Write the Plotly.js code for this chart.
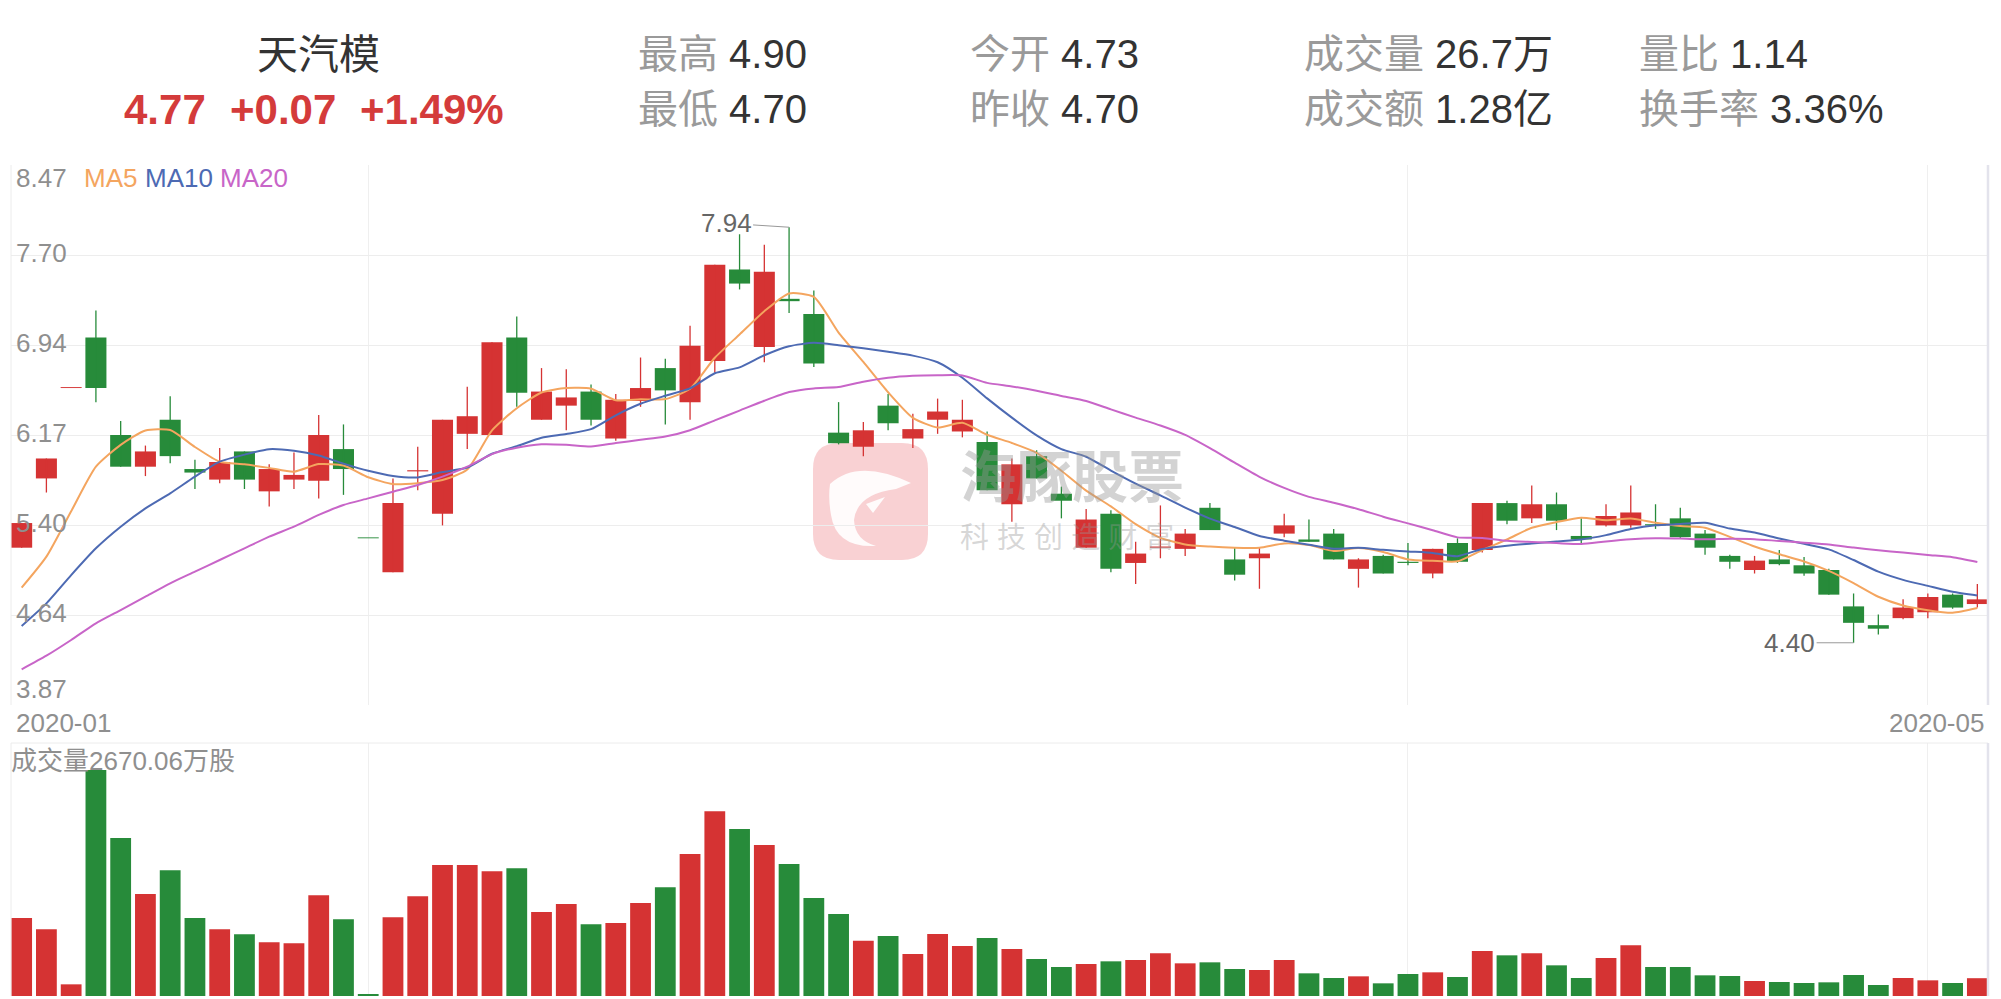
<!DOCTYPE html>
<html><head><meta charset="utf-8">
<script src="https://cdn.plot.ly/plotly-3.0.1.min.js"></script>
<style>html,body{margin:0;padding:0;background:#fff;} #chart{width:2001px;height:999px;}</style>
</head><body><div id="chart"></div>
<script>
// ---------------- data ----------------
const stockName = '天汽模';
const quoteParts = ['4.77', '+0.07', '+1.49%'];
const infoLabels = ['最高', '最低', '今开', '昨收', '成交量', '成交额', '量比', '换手率'];
const infoValues = ['4.90', '4.70', '4.73', '4.70', '26.7万', '1.28亿', '1.14', '3.36%'];
const priceTickLabels = ['8.47', '7.70', '6.94', '6.17', '5.40', '4.64', '3.87'];
const dateLabels = ['2020-01', '2020-05'];
const monthStartIdx = [14, 56, 77];
const volumeTitle = '成交量2670.06万股';
const maNames = ['MA5', 'MA10', 'MA20'];

const open = [5.21,5.80,6.57,7.00,6.17,5.90,6.30,5.88,5.79,6.03,5.69,5.79,5.78,6.05,5.29,5.00,5.86,5.50,6.18,6.17,
  7.00,6.30,6.42,6.54,6.14,6.46,6.74,6.45,6.80,7.58,6.92,7.33,7.20,6.19,6.07,6.42,6.14,6.30,6.20,6.11,
  5.58,5.99,5.67,5.21,5.50,5.08,5.21,5.20,5.55,5.11,5.12,5.33,5.28,5.33,5.03,5.14,5.09,4.99,5.25,5.19,
  5.59,5.46,5.58,5.31,5.40,5.40,5.41,5.46,5.33,5.14,5.02,5.11,5.06,5.02,4.71,4.55,4.61,4.66,4.81,4.73];
const high = [5.42,5.97,6.57,7.23,6.29,6.08,6.50,5.96,6.06,6.03,5.92,6.02,6.34,6.26,5.29,5.80,6.07,6.30,6.58,6.96,
  7.18,6.74,6.73,6.60,6.52,6.83,6.82,7.10,7.62,7.88,7.79,7.94,7.40,6.45,6.28,6.52,6.35,6.48,6.47,6.20,
  5.97,6.04,5.73,5.54,5.53,5.26,5.57,5.37,5.59,5.21,5.21,5.50,5.45,5.37,5.12,5.15,5.25,5.20,5.29,5.59,
  5.61,5.74,5.68,5.46,5.58,5.74,5.58,5.55,5.36,5.15,5.14,5.19,5.13,5.03,4.82,4.64,4.77,4.82,4.82,4.90];
const low = [5.21,5.68,6.57,6.45,5.90,5.82,5.93,5.71,5.76,5.71,5.56,5.71,5.63,5.66,5.29,5.00,5.70,5.40,6.05,6.17,
  6.41,6.30,6.21,6.25,6.12,6.41,6.26,6.30,6.70,7.41,6.79,7.21,6.75,6.09,5.99,6.21,6.06,6.18,6.15,5.70,
  5.43,5.80,5.46,5.21,5.00,4.90,5.12,5.14,5.36,4.93,4.86,5.30,5.26,5.11,4.87,4.99,5.06,4.95,5.08,5.17,
  5.41,5.42,5.36,5.25,5.39,5.38,5.37,5.29,5.15,5.03,4.99,5.06,4.97,4.81,4.40,4.47,4.60,4.61,4.69,4.70];
const close = [5.42,5.97,6.57,6.57,5.90,6.03,5.99,5.85,5.94,5.79,5.88,5.83,6.17,5.88,5.29,5.59,5.87,6.30,6.33,6.96,
  6.53,6.54,6.49,6.30,6.47,6.57,6.55,6.93,7.62,7.46,7.56,7.31,6.78,6.10,6.21,6.27,6.22,6.37,6.30,5.70,
  5.92,5.80,5.61,5.45,5.03,5.16,5.22,5.33,5.36,4.98,5.16,5.40,5.26,5.11,5.11,4.99,5.08,5.20,5.09,5.59,
  5.44,5.58,5.44,5.28,5.48,5.51,5.40,5.30,5.21,5.09,5.10,5.07,4.99,4.81,4.57,4.52,4.70,4.79,4.70,4.77];
// volume in 万股
const volume = [11700,10000,1750,33900,23700,15300,18850,11700,10000,9250,8050,7900,15100,11500,300,11800,14950,19650,19650,18700,
  19150,12600,13800,10750,10950,13950,16300,21300,27700,25050,22650,19800,14700,12300,8300,9000,6300,9300,7500,8700,
  7050,5550,4350,4800,5200,5400,6400,4900,5050,4050,3900,5400,3400,2700,2950,1900,3300,3550,2850,6750,
  6100,6400,4600,2700,5700,7600,4350,4350,3100,3000,2250,2100,1950,2050,3150,1650,2700,2350,1950,2670.06];
const ma5 = [4.870,5.134,5.520,5.900,6.086,6.208,6.212,6.068,5.942,5.920,5.890,5.858,5.922,5.910,5.810,5.752,5.760,5.786,5.876,6.210,
  6.398,6.532,6.570,6.564,6.466,6.474,6.476,6.564,6.828,7.026,7.224,7.376,7.346,7.042,6.792,6.534,6.316,6.234,6.274,6.172,
  6.102,6.018,5.866,5.696,5.562,5.410,5.294,5.238,5.220,5.210,5.210,5.246,5.232,5.182,5.208,5.174,5.110,5.098,5.094,5.190,
  5.280,5.380,5.428,5.466,5.444,5.458,5.422,5.394,5.380,5.302,5.220,5.154,5.092,5.012,4.908,4.792,4.718,4.678,4.656,4.696];
const ma10 = [4.543,4.736,4.977,5.205,5.389,5.545,5.673,5.815,5.943,6.003,6.049,6.035,5.995,5.926,5.865,5.821,5.809,5.854,5.893,6.010,
  6.075,6.146,6.178,6.220,6.338,6.436,6.504,6.567,6.696,6.746,6.849,6.926,6.955,6.935,6.909,6.879,6.846,6.790,6.658,6.482,
  6.318,6.167,6.050,5.985,5.867,5.756,5.656,5.552,5.458,5.386,5.310,5.270,5.235,5.201,5.209,5.192,5.178,5.165,5.138,5.199,
  5.227,5.245,5.263,5.280,5.317,5.369,5.401,5.411,5.423,5.373,5.339,5.288,5.243,5.196,5.105,5.006,4.936,4.885,4.834,4.802];
const ma20 = [4.174,4.290,4.424,4.566,4.679,4.793,4.907,5.006,5.105,5.205,5.304,5.389,5.489,5.574,5.630,5.687,5.744,5.815,5.900,6.007,
  6.062,6.091,6.087,6.073,6.102,6.129,6.157,6.211,6.295,6.378,6.462,6.536,6.567,6.578,6.624,6.658,6.675,6.679,6.677,6.614,
  6.584,6.547,6.503,6.460,6.388,6.318,6.251,6.171,6.058,5.934,5.814,5.719,5.643,5.593,5.538,5.474,5.417,5.359,5.298,5.293,
  5.269,5.258,5.249,5.241,5.263,5.281,5.290,5.288,5.281,5.286,5.283,5.267,5.253,5.238,5.211,5.188,5.169,5.148,5.129,5.088];

// ---------------- styling / geometry ----------------
const RED = '#d53333', GREEN = '#278b3a';
const MA_COLORS = ['#f4a55f', '#4d6ab3', '#c865c8'];
const FONT = "'Liberation Sans', 'Noto Sans CJK SC', sans-serif";
const W = 2001, H = 999, ML = 11, MR = 13, MT = 165, MB = 3;
const PW = W - ML - MR, PH = H - MT - MB;
const px = x => (x - ML) / PW;
const py = y => (H - MB - y) / PH;
const PRICE_BOTTOM_PX = 705, VOL_TOP_PX = 743;

const idx = close.map((_, i) => i);
const isUp = close.map((c, i) => c > open[i] ? true : c < open[i] ? false : (i === 0 ? true : c >= close[i - 1]));
const colors = isUp.map(u => u ? RED : GREEN);

// bodies
const bodyBase = idx.map(i => Math.min(open[i], close[i]));
const bodyH = idx.map(i => Math.max(Math.abs(close[i] - open[i]), 0.008));

function wickTrace(up) {
  const xs = [], ys = [];
  idx.forEach(i => { if (isUp[i] === up) { xs.push(i, i, null); ys.push(low[i], high[i], null); } });
  return {type: 'scatter', mode: 'lines', x: xs, y: ys, xaxis: 'x', yaxis: 'y',
    line: {color: up ? RED : GREEN, width: 1.3}, hoverinfo: 'skip', showlegend: false};
}

const traces = [
  wickTrace(true), wickTrace(false),
  {type: 'bar', x: idx, y: bodyH, base: bodyBase, width: 0.85, xaxis: 'x', yaxis: 'y',
    marker: {color: colors, line: {width: 0}}, hoverinfo: 'skip', showlegend: false},
];
[ma5, ma10, ma20].forEach((m, k) => traces.push({
  type: 'scatter', mode: 'lines', x: idx, y: m, xaxis: 'x', yaxis: 'y',
  line: {color: MA_COLORS[k], width: 2, shape: 'spline', smoothing: 0.6}, hoverinfo: 'skip', showlegend: false}));
traces.push({type: 'bar', x: idx, y: volume, width: 0.84, xaxis: 'x2', yaxis: 'y2',
  marker: {color: colors, line: {width: 0}}, hoverinfo: 'skip', showlegend: false});

// axes
const yTop = parseFloat(priceTickLabels[0]);
const yBot = parseFloat(priceTickLabels[priceTickLabels.length - 1]);
const yStep = (yTop - yBot) / (priceTickLabels.length - 1);
const gridVals = priceTickLabels.map((_, k) => yTop - k * yStep).slice(0, -1);
const xRange = [-0.43, idx.length - 1 + 0.43];
const volMaxAxis = 37950;

const annotations = [];
// y tick labels
priceTickLabels.forEach((t, k) => {
  const last = priceTickLabels.length - 1;
  annotations.push({xref: 'paper', yref: 'y', x: 0, y: yTop - k * yStep, xanchor: 'left', yanchor: 'middle',
    xshift: 3, yshift: k === 0 ? -13 : (k === last ? 16 : 2), text: t, showarrow: false,
    font: {family: FONT, size: 26, color: '#8f8f8f'}});
});
// MA legend
const maLeft = [82, 143, 218];
maNames.forEach((n, k) => annotations.push({xref: 'paper', yref: 'paper', x: px(maLeft[k]), y: py(178),
  xanchor: 'left', yanchor: 'middle', text: n, showarrow: false, font: {family: FONT, size: 26, color: MA_COLORS[k]}}));
// date labels
annotations.push({xref: 'paper', yref: 'paper', x: px(14), y: py(723), xanchor: 'left', yanchor: 'middle',
  text: dateLabels[0], showarrow: false, font: {family: FONT, size: 26, color: '#8f8f8f'}});
annotations.push({xref: 'paper', yref: 'paper', x: px(1986), y: py(723), xanchor: 'right', yanchor: 'middle',
  text: dateLabels[1], showarrow: false, font: {family: FONT, size: 26, color: '#8f8f8f'}});
// volume title
annotations.push({xref: 'paper', yref: 'paper', x: px(9), y: py(761), xanchor: 'left', yanchor: 'middle',
  text: volumeTitle, showarrow: false, font: {family: FONT, size: 26, color: '#8f8f8f'}});
// max / min markers
const hiIdx = high.indexOf(Math.max(...high));
const loIdx = low.indexOf(Math.min(...low));
annotations.push({xref: 'x', yref: 'y', x: hiIdx, y: high[hiIdx], text: high[hiIdx].toFixed(2), showarrow: true,
  arrowhead: 0, arrowwidth: 1, arrowcolor: '#999', ax: -63, ay: -4, font: {family: FONT, size: 26, color: '#666'}});
annotations.push({xref: 'x', yref: 'y', x: loIdx, y: low[loIdx], text: low[loIdx].toFixed(2), showarrow: true,
  arrowhead: 0, arrowwidth: 1, arrowcolor: '#999', ax: -64, ay: 0, font: {family: FONT, size: 26, color: '#666'}});
// header
annotations.push({xref: 'paper', yref: 'paper', x: px(318), y: py(55), xanchor: 'center', yanchor: 'middle',
  text: stockName, showarrow: false, font: {family: FONT, size: 41, color: '#333'}});
const quoteLeft = [122, 228, 358];
quoteParts.forEach((q, k) => annotations.push({xref: 'paper', yref: 'paper', x: px(quoteLeft[k]), y: py(109),
  xanchor: 'left', yanchor: 'middle', text: '<b>' + q + '</b>', showarrow: false, font: {family: FONT, size: 42, color: '#d43b3b'}}));
const colLeft = [636, 968, 1302, 1637], rowY = [54, 109];
infoLabels.forEach((lab, k) => {
  const col = Math.floor(k / 2), row = k % 2;
  annotations.push({xref: 'paper', yref: 'paper', x: px(colLeft[col]), y: py(rowY[row]), xanchor: 'left', yanchor: 'middle',
    text: '<span style="color:#9a9a9a">' + lab + '</span> ' + infoValues[k], showarrow: false,
    font: {family: FONT, size: 40, color: '#333'}});
});
// watermark text
annotations.push({xref: 'paper', yref: 'paper', x: px(958), y: py(477), xanchor: 'left', yanchor: 'middle',
  text: '<b>海豚股票</b>', showarrow: false, font: {family: FONT, size: 56, color: 'rgba(150,150,150,0.42)'}});
annotations.push({xref: 'paper', yref: 'paper', x: px(958), y: py(538), xanchor: 'left', yanchor: 'middle',
  text: '科 技 创 造 财 富', showarrow: false, font: {family: FONT, size: 29, color: 'rgba(150,150,150,0.38)'}});

// shapes
const P = (x, y) => px(x) + ',' + py(y);
function roundRect(x0, y0, x1, y1, r) {
  return 'M' + P(x0 + r, y0) + ' L' + P(x1 - r, y0) + ' Q' + P(x1, y0) + ' ' + P(x1, y0 + r) +
    ' L' + P(x1, y1 - r) + ' Q' + P(x1, y1) + ' ' + P(x1 - r, y1) + ' L' + P(x0 + r, y1) +
    ' Q' + P(x0, y1) + ' ' + P(x0, y1 - r) + ' L' + P(x0, y0 + r) + ' Q' + P(x0, y0) + ' ' + P(x0 + r, y0) + ' Z';
}
const dolphin = 'M' + P(830, 484) + ' Q' + P(858, 458) + ' ' + P(911, 483) + ' L' + P(896, 489) +
  ' Q' + P(857, 494) + ' ' + P(854, 520) + ' Q' + P(855, 540) + ' ' + P(876, 546) +
  ' Q' + P(836, 548) + ' ' + P(831, 515) + ' Q' + P(828, 498) + ' ' + P(830, 484) + ' Z';
const fin = 'M' + P(866, 504) + ' L' + P(885, 497) + ' L' + P(873, 513) + ' Z';
const pTop = 1, pBot = py(PRICE_BOTTOM_PX), vTop = py(VOL_TOP_PX);
const shapes = [
  {type: 'path', xref: 'paper', yref: 'paper', path: roundRect(813, 443, 928, 560, 26),
    fillcolor: 'rgba(246,190,193,0.7)', line: {width: 0}, layer: 'below'},
  {type: 'path', xref: 'paper', yref: 'paper', path: dolphin, fillcolor: 'rgba(255,255,255,0.9)', line: {width: 0}, layer: 'below'},
  {type: 'path', xref: 'paper', yref: 'paper', path: fin, fillcolor: 'rgba(255,255,255,0.9)', line: {width: 0}, layer: 'below'},
  // borders
  {type: 'line', xref: 'paper', yref: 'paper', x0: 0, x1: 0, y0: pBot, y1: pTop, line: {color: '#ececec', width: 1}},
  {type: 'line', xref: 'paper', yref: 'paper', x0: 0, x1: 0, y0: 0, y1: vTop, line: {color: '#ececec', width: 1}},
  {type: 'line', xref: 'paper', yref: 'paper', x0: 0, x1: 1, y0: vTop, y1: vTop, line: {color: '#ececec', width: 1}},
  {type: 'line', xref: 'paper', yref: 'paper', x0: 1, x1: 1, y0: pBot, y1: pTop, line: {color: '#e3e3ec', width: 2.5}},
  {type: 'line', xref: 'paper', yref: 'paper', x0: 1, x1: 1, y0: 0, y1: vTop, line: {color: '#e3e3ec', width: 2.5}},
];

const xCommon = {range: xRange, tickvals: monthStartIdx, showgrid: true, gridcolor: '#efefef', gridwidth: 1,
  showticklabels: false, ticks: '', zeroline: false, showline: false, fixedrange: true};
const layout = {
  width: W, height: H, margin: {l: ML, r: MR, t: MT, b: MB, pad: 0},
  paper_bgcolor: '#ffffff', plot_bgcolor: 'rgba(0,0,0,0)', showlegend: false, hovermode: false,
  barmode: 'overlay',
  xaxis: Object.assign({}, xCommon, {domain: [0, 1], anchor: 'y'}),
  xaxis2: Object.assign({}, xCommon, {domain: [0, 1], anchor: 'y2', matches: 'x'}),
  yaxis: {domain: [pBot, pTop], range: [yBot, yTop], tickvals: gridVals, showgrid: true, gridcolor: '#ededed',
    showticklabels: false, ticks: '', zeroline: false, showline: false, fixedrange: true},
  yaxis2: {domain: [0, vTop], range: [0, volMaxAxis], showgrid: false, showticklabels: false, ticks: '',
    zeroline: false, showline: false, fixedrange: true},
  annotations: annotations, shapes: shapes,
  font: {family: FONT}
};
Plotly.newPlot('chart', traces, layout, {displayModeBar: false, staticPlot: true});
</script>
</body></html>
